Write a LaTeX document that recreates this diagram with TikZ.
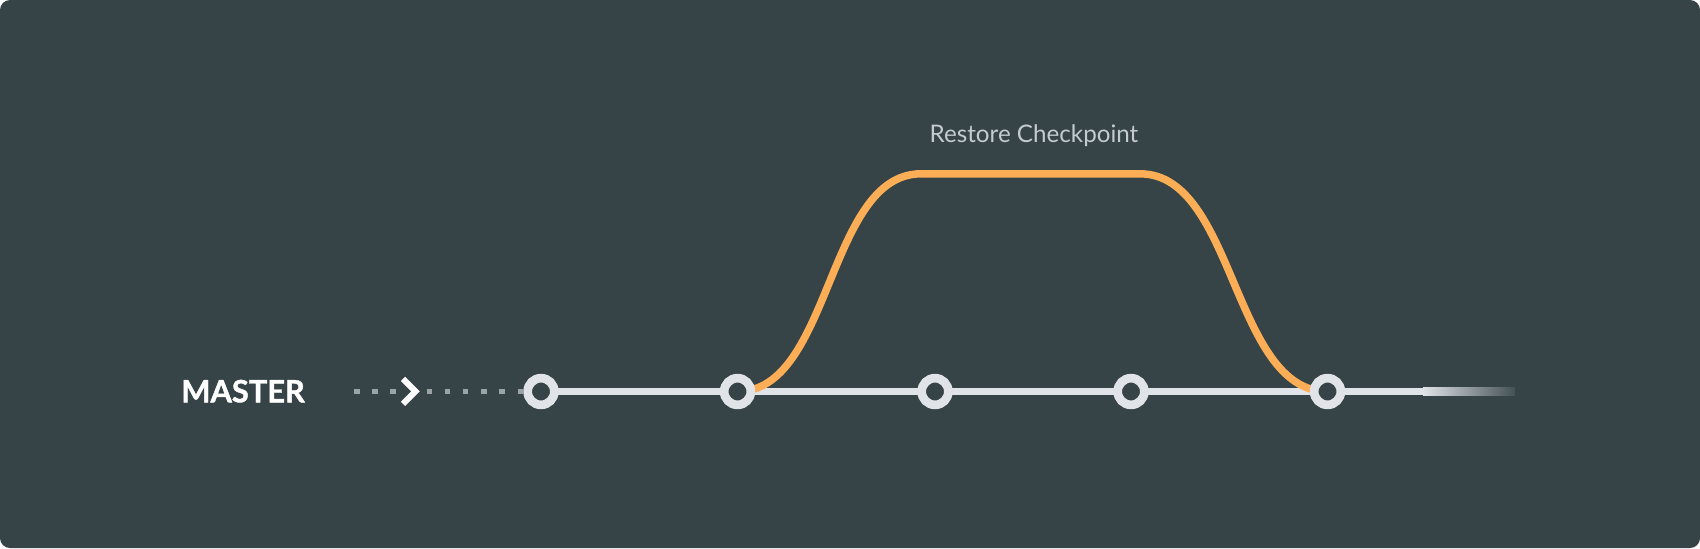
\documentclass[tikz,border=0pt]{standalone}
\usepackage{fontspec}
\setmainfont{Lato}
\newfontfamily\masterfont{Lato}[BoldFeatures={FakeBold=1.2}]
\usetikzlibrary{backgrounds}
\definecolor{slate}{HTML}{364347}
\definecolor{trunkgray}{HTML}{E0E4E9}
\definecolor{branchorange}{HTML}{FBAE55}
\definecolor{dotgray}{HTML}{9AA4A6}
\definecolor{labelgray}{HTML}{C3CBD0}

\begin{document}
\begin{tikzpicture}[x=0.5pt, y=-0.5pt,
    commit/.style={circle, draw=trunkgray, fill=slate, line width=4.35pt, minimum size=13.35pt, inner sep=0pt},
    trunk/.style={trunkgray, line width=3.7pt},
    branch/.style={branchorange, line width=3.75pt},
    dotline/.style={dotgray, line width=2.75pt, dash pattern=on 2.75pt off 6.35pt}]
    \useasboundingbox (0,0) rectangle (1700,548);

    % Commits on master
    \foreach \i/\x in {1/541, 2/737.5, 3/935, 4/1131, 5/1327.5} {
        \node[commit] (ck\i) at (\x,391.5) {};
    }

    % Labels
    \node[anchor=base west, inner sep=0pt, text=white, font=\masterfont\bfseries\fontsize{15.4}{18}\selectfont] (master) at (181,402.3) {MASTER};
    \node[anchor=base, inner sep=0pt, text=labelgray, font=\fontsize{12.1}{14}\selectfont] (restore) at (1034,142.3) {Restore Checkpoint};

    % Chevron and dotted lead-in
    \coordinate (chev) at (415.5,391.3);
    \coordinate (tail) at (354,391.5);
    \coordinate (chevin) at (399,391.5);
    \coordinate (chevout) at (426.5,391.5);
    \draw[white, line width=3pt] ([shift={(-12.5,-12.5)}]chev) -- (chev) -- ([shift={(-12.5,12.5)}]chev);
    \draw[dotline] (tail) -- (chevin);
    \draw[dotline] (chevout) -- (ck1);

    \coordinate (top1) at (921,173.8);
    \coordinate (top2) at (1140,173.8);
    \coordinate (fadeA) at (1423,391.5);
    \coordinate (fadeB) at (1515,391.5);

    \begin{scope}[on background layer]
        \fill[slate, rounded corners=5pt] (0,0) rectangle (1700,548);
        % Master line, fading out
        \draw[trunk] (ck1.center) -- (fadeA);
        \shade[left color=trunkgray, right color=slate!92!trunkgray] ([yshift=1.85pt]fadeA) rectangle ([yshift=-1.85pt]fadeB);
        % Restored branch
        \draw[branch] (ck2.center) .. controls +(94,0) and +(-94,0) .. (top1) -- (top2)
            .. controls +(95,0) and +(-95,0) .. (ck5.center);
    \end{scope}
\end{tikzpicture}
\end{document}
